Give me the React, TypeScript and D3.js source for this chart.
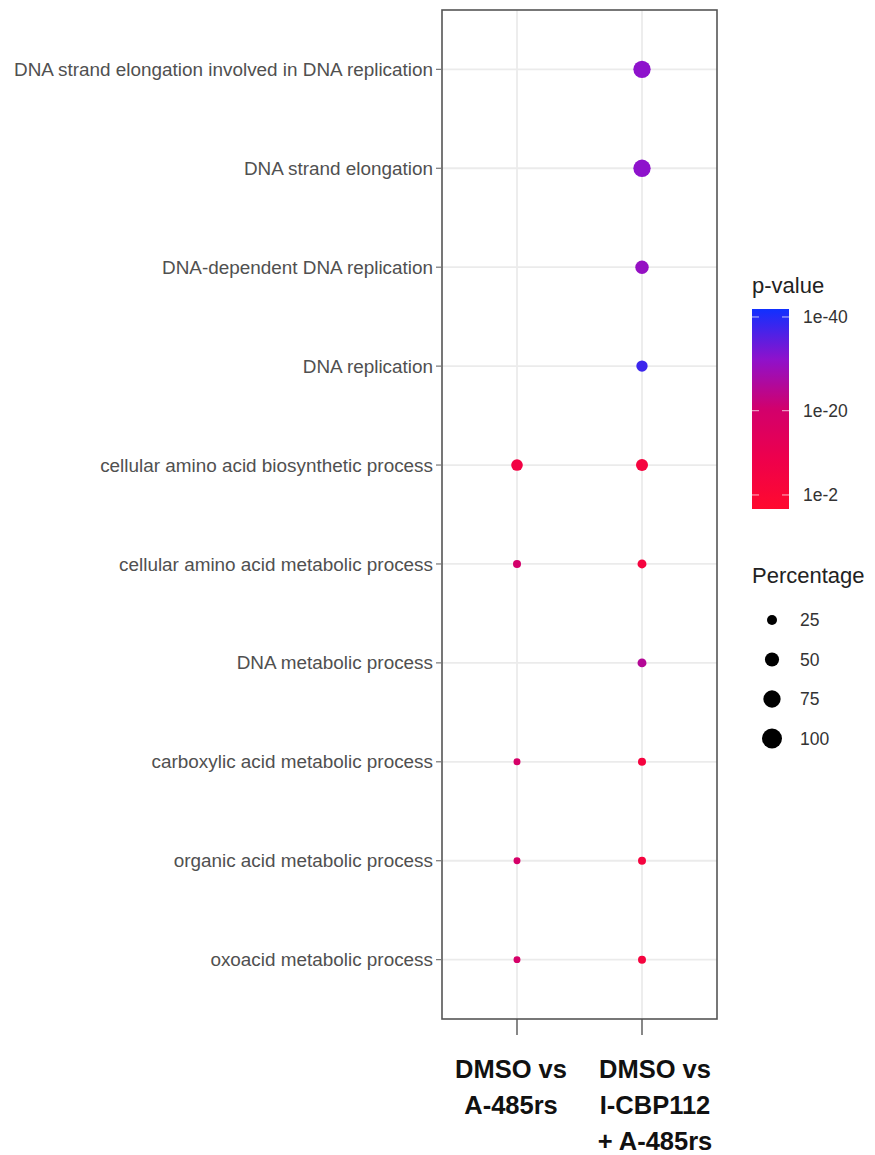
import React from "react";
import * as d3 from "d3";

const terms = [
  "DNA strand elongation involved in DNA replication",
  "DNA strand elongation",
  "DNA-dependent DNA replication",
  "DNA replication",
  "cellular amino acid biosynthetic process",
  "cellular amino acid metabolic process",
  "DNA metabolic process",
  "carboxylic acid metabolic process",
  "organic acid metabolic process",
  "oxoacid metabolic process",
];

const comparisons = ["DMSO vs A-485rs", "DMSO vs I-CBP112 + A-485rs"];
const comparisonLines = [
  ["DMSO vs", "A-485rs"],
  ["DMSO vs", "I-CBP112", "+ A-485rs"],
];

// percentage of genes per term (null = not enriched)
const pctA485: (number | null)[] = [null, null, null, null, 34, 16, null, 12, 12, 12];
const pctCombo: (number | null)[] = [75, 75, 45, 32, 36, 20, 20, 16, 16, 16];

// p-values
const pA485: (number | null)[] = [null, null, null, null, 1e-7, 1e-20, null, 1e-19, 1e-19, 1e-19];
const pCombo: (number | null)[] = [1e-31, 1e-31, 1e-30, 1e-38, 1e-5, 1e-5, 1e-25, 1e-5, 1e-5, 1e-5];

const pBreaks = [1e-40, 1e-20, 1e-2];
const pBreakLabels = ["1e-40", "1e-20", "1e-2"];
const sizeBreaks = [25, 50, 75, 100];

const colorStops = ["#ff0a2e", "#ee004c", "#d2006c", "#8e12cc", "#1030ff"];

export default function App() {
  const W = 875;
  const H = 1155;
  const panel = { left: 442, right: 717, top: 10, bottom: 1019 };

  const x = d3.scalePoint<string>().domain(comparisons).range([panel.left, panel.right]).padding(0.6);
  const y = d3.scalePoint<string>().domain(terms).range([panel.top, panel.bottom]).padding(0.6);
  const r = d3.scaleSqrt().domain([0, 100]).range([0, 10]);

  // colour on -log10(p)
  const lp = (p: number) => -Math.log10(p);
  const interp = d3.piecewise(d3.interpolateRgb, colorStops);
  const cDomain: [number, number] = [-1, 41.7];
  const tScale = d3.scaleLinear().domain(cDomain).range([0, 1]).clamp(true);
  const color = (p: number) => interp(tScale(lp(p)));

  const bar = { x: 752, w: 37, top: 309, bottom: 509 };
  const barY = d3.scaleLinear().domain(cDomain).range([bar.bottom, bar.top]);
  const gradStops = d3.range(0, 1.0001, 0.05);

  const series = [
    { comp: comparisons[0], pct: pctA485, p: pA485 },
    { comp: comparisons[1], pct: pctCombo, p: pCombo },
  ];

  const gridColor = "#ebebeb";
  const labelOffsets = [-6, 13];

  return (
    <svg width={W} height={H} style={{ position: "absolute", left: 0, top: 0, background: "#fff" }} fontFamily="'Liberation Sans', Arial, sans-serif">
      <defs>
        <linearGradient id="pgrad" x1="0" y1="1" x2="0" y2="0">
          {gradStops.map((t, i) => (
            <stop key={i} offset={t} stopColor={interp(t)} />
          ))}
        </linearGradient>
      </defs>
      <rect x={0} y={0} width={W} height={H} fill="#fff" />
      {/* grid */}
      {terms.map((t) => (
        <line key={t} x1={panel.left} x2={panel.right} y1={y(t)} y2={y(t)} stroke={gridColor} strokeWidth={1.8} />
      ))}
      {comparisons.map((c) => (
        <line key={c} x1={x(c)} x2={x(c)} y1={panel.top} y2={panel.bottom} stroke={gridColor} strokeWidth={1.8} />
      ))}
      {/* points */}
      {series.map((s) =>
        terms.map((t, i) => {
          const pct = s.pct[i];
          const p = s.p[i];
          if (pct == null || p == null) return null;
          return <circle key={s.comp + t} cx={x(s.comp)} cy={y(t)} r={r(pct)} fill={color(p)} />;
        })
      )}
      {/* panel border */}
      <rect x={panel.left} y={panel.top} width={panel.right - panel.left} height={panel.bottom - panel.top} fill="none" stroke="#555" strokeWidth={1.6} />
      {/* y axis ticks & labels */}
      {terms.map((t) => (
        <g key={t}>
          <line x1={panel.left - 6} x2={panel.left} y1={y(t)} y2={y(t)} stroke="#777" strokeWidth={1.2} />
          <text x={panel.left - 9} y={y(t)} dy="0.35em" textAnchor="end" fontSize={18.9} fill="#505050">
            {t}
          </text>
        </g>
      ))}
      {/* x axis ticks & labels */}
      {comparisons.map((c, i) => (
        <g key={c}>
          <line x1={x(c)} x2={x(c)} y1={panel.bottom} y2={panel.bottom + 16} stroke="#555" strokeWidth={1.4} />
          {comparisonLines[i].map((ln, j) => (
            <text
              key={j}
              x={(x(c) as number) + labelOffsets[i]}
              y={panel.bottom + 50 + j * 36}
              dy="0.35em"
              textAnchor="middle"
              fontSize={25.5}
              fontWeight="bold"
              fill="#111"
            >
              {ln}
            </text>
          ))}
        </g>
      ))}
      {/* p-value legend */}
      <text x={bar.x} y={293} fontSize={22} fill="#222">p-value</text>
      <rect x={bar.x} y={bar.top} width={bar.w} height={bar.bottom - bar.top} fill="url(#pgrad)" />
      {pBreaks.map((b, i) => (
        <g key={i}>
          <line x1={bar.x} x2={bar.x + 7} y1={barY(lp(b))} y2={barY(lp(b))} stroke="#fff" strokeOpacity={0.6} strokeWidth={1.2} />
          <line x1={bar.x + bar.w - 7} x2={bar.x + bar.w} y1={barY(lp(b))} y2={barY(lp(b))} stroke="#fff" strokeOpacity={0.6} strokeWidth={1.2} />
          <text x={bar.x + bar.w + 14} y={barY(lp(b))} dy="0.35em" fontSize={17.5} fill="#333">
            {pBreakLabels[i]}
          </text>
        </g>
      ))}
      {/* size legend */}
      <text x={bar.x} y={583} fontSize={22} fill="#222">Percentage</text>
      {sizeBreaks.map((s, i) => (
        <g key={s}>
          <circle cx={772} cy={620 + i * 39.5} r={r(s)} fill="#000" />
          <text x={800} y={620 + i * 39.5} dy="0.35em" fontSize={17.5} fill="#333">
            {s}
          </text>
        </g>
      ))}
    </svg>
  );
}
